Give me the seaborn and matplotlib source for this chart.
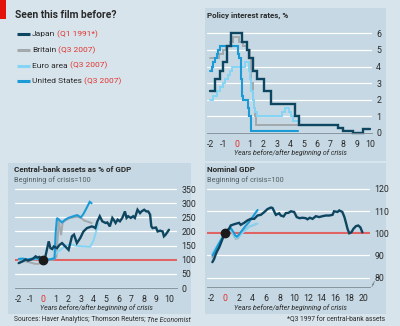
import matplotlib
matplotlib.use("Agg")
import matplotlib.pyplot as plt
import seaborn as sns
import pandas as pd
from matplotlib import font_manager
from matplotlib.patches import Rectangle
from matplotlib.lines import Line2D

# ---------------- data ----------------
countries = ["Britain", "Euro area", "United States", "Japan"]
legend_order = ["Japan", "Britain", "Euro area", "United States"]
crisis_dates = {"Japan": "(Q1 1991*)", "Britain": "(Q3 2007)",
                "Euro area": "(Q3 2007)", "United States": "(Q3 2007)"}

# Policy interest rates, % (step change points; years before/after crisis)
rate_japan_x = [-2, -1.6, -1.25, -1.0, -0.75, -0.4, 0.4, 0.8, 0.95, 1.2, 1.5, 2.05, 2.6, 4.35, 4.7, 7.6, 8.0, 8.75, 9.5, 10.0]
rate_japan_y = [2.5, 3.25, 3.75, 4.25, 5.25, 6.0, 5.5, 5.0, 4.5, 3.75, 3.25, 2.5, 1.75, 1.0, 0.5, 0.3, 0.15, 0.0, 0.25, 0.25]
rate_britain_x = [-2, -1.35, -1.05, -0.8, -0.5, -0.3, 0.2, 0.45, 0.75, 1.0, 1.1, 1.2, 1.3, 1.38, 1.45, 4.75]
rate_britain_y = [4.5, 4.75, 5.0, 5.25, 5.5, 5.75, 5.5, 5.25, 5.0, 4.5, 3.0, 2.0, 1.5, 1.0, 0.5, 0.5]
rate_euro_x = [-2, -1.75, -1.5, -1.25, -1.05, -0.85, -0.65, -0.5, -0.35, 0.65, 0.9, 1.0, 1.1, 1.2, 1.3, 1.4, 1.5, 3.4, 3.6, 3.95, 4.05, 4.2, 4.75]
rate_euro_y = [2.0, 2.25, 2.5, 2.75, 3.0, 3.25, 3.5, 3.75, 4.0, 4.25, 3.75, 3.25, 2.5, 2.0, 1.5, 1.25, 1.0, 1.25, 1.5, 1.25, 1.0, 0.75, 0.75]
rate_us_x = [-2, -1.875, -1.75, -1.625, -1.5, -1.375, -1.25, 0.12, 0.2, 0.3, 0.38, 0.45, 0.88, 0.95, 1.1, 4.6]
rate_us_y = [3.75, 4.0, 4.25, 4.5, 4.75, 5.0, 5.25, 4.75, 4.5, 3.25, 2.25, 2.0, 1.5, 1.0, 0.125, 0.125]

# Central-bank assets as % of GDP (beginning of crisis = 100)
cb_japan_x = [-1.95, -1.6, -1.4, -1.2, -1.0, -0.8, -0.6, -0.45, -0.3, -0.15, 0.0, 0.18, 0.44, 0.58, 0.72, 0.84, 1.1, 1.31, 1.5, 1.76, 2.02, 2.29, 2.45, 2.68, 2.95, 3.2, 3.48, 3.87, 4.05, 4.15, 4.3, 4.5, 4.7, 4.97, 5.1, 5.3, 5.5, 5.6, 5.76, 5.92, 6.1, 6.29, 6.5, 6.63, 6.76, 6.97, 7.15, 7.29, 7.5, 7.7, 7.82, 8.03, 8.2, 8.35, 8.5, 8.6, 8.7, 8.97, 9.1, 9.3, 9.5, 9.6, 9.74, 10.0]
cb_japan_y = [88, 95, 101, 97, 100, 104, 112, 108, 110, 105, 100, 112, 165, 141, 138, 147, 141, 153, 159, 147, 135, 183, 189, 159, 177, 200, 212, 218, 215, 212, 235, 254, 236, 230, 232, 218, 248, 242, 230, 242, 236, 248, 271, 248, 254, 248, 254, 248, 277, 265, 271, 277, 271, 271, 260, 218, 212, 214, 200, 203, 200, 183, 189, 206]
cb_britain_x = [-1.93, -1.6, -1.3, -1.0, -0.7, -0.4, -0.2, 0.0, 0.4, 0.8, 1.05, 1.25, 1.35, 1.42, 1.55, 1.8, 2.1, 2.4, 2.7, 3.0, 3.3, 3.6, 3.85]
cb_britain_y = [98, 96, 93, 90, 86, 85, 90, 97, 100, 100, 110, 242, 205, 187, 232, 240, 247, 250, 252, 248, 238, 234, 230]
cb_euro_x = [-1.93, -1.5, -1.0, -0.5, 0.0, 0.4, 0.8, 1.05, 1.37, 1.76, 2.16, 2.55, 2.95, 3.35, 3.74, 4.0, 4.21, 4.4]
cb_euro_y = [100, 101, 100, 102, 100, 100, 106, 125, 135, 150, 155, 150, 148, 147, 146, 168, 200, 228]
cb_us_x = [-1.93, -1.6, -1.3, -1.0, -0.6, -0.3, 0.0, 0.3, 0.6, 0.9, 1.0, 1.1, 1.3, 1.5, 1.75, 2.0, 2.4, 2.7, 3.0, 3.2, 3.45, 3.7, 3.85]
cb_us_y = [103, 104, 101, 103, 105, 103, 100, 100, 102, 105, 200, 248, 240, 232, 242, 248, 254, 258, 250, 262, 283, 305, 300]

# Nominal GDP (beginning of crisis = 100)
gdp_japan_x = [-1.8, -1.55, -1.3, -1.1, -0.82, -0.34, 0.0, 0.3, 0.6, 0.85, 1.1, 1.59, 2.07, 2.3, 2.8, 3.28, 3.76, 4.25, 4.73, 5.2, 5.69, 6.17, 6.66, 6.9, 7.38, 7.86, 8.1, 8.5, 8.83, 9.2, 9.55, 10.03, 10.4, 10.8, 11.24, 11.7, 11.96, 12.3, 12.69, 13.17, 13.65, 14.13, 14.6, 15.1, 15.58, 15.8, 16.3, 16.55, 17.0, 17.3, 17.5, 17.75, 18.0, 18.3, 18.6, 18.96, 19.3, 19.6, 19.9]
gdp_japan_y = [87, 88.4, 90.6, 92, 93.6, 97.4, 100, 101.3, 102, 103.5, 103.8, 104.3, 104.7, 103.8, 104.7, 105.8, 106.5, 106.5, 108, 108.3, 109.5, 110.9, 111.6, 111.4, 108.3, 109, 108, 107.6, 109.1, 109.2, 109.9, 109.6, 107.3, 106.8, 107, 106.8, 106.3, 107, 106.5, 107.7, 107.3, 107.7, 108, 108, 108.3, 109.9, 109.6, 110.3, 109.6, 107.3, 105, 102, 100, 100.4, 102, 103.2, 103.5, 102.7, 100.4]
gdp_britain_x = [-1.8, -1.5, -1.0, -0.5, 0.0, 0.5, 0.8, 1.2, 1.6, 1.9, 2.4, 3.0, 3.5, 4.0, 4.6]
gdp_britain_y = [89, 91, 94, 97, 100, 101.5, 101.8, 99.5, 97.5, 97.8, 100, 101.8, 103, 103.5, 104.3]
gdp_euro_x = [-1.8, -1.0, 0.0, 0.6, 0.9, 1.3, 1.7, 2.0, 2.5, 3.0, 3.5, 4.0, 4.5, 4.75]
gdp_euro_y = [91, 95, 100, 102, 101.5, 99, 97.8, 98.5, 100, 101.5, 102.8, 103.6, 104.2, 104.3]
gdp_us_x = [-1.8, -1.5, -1.0, -0.5, 0.0, 0.5, 0.9, 1.25, 1.5, 1.75, 2.0, 2.5, 3.0, 3.5, 4.0, 4.5, 4.75]
gdp_us_y = [90, 91.5, 94.5, 97.3, 100, 101.5, 102.2, 100.5, 99, 98.5, 99.2, 101.3, 103.3, 105, 107.2, 109.5, 110.5]

rate_ticks = [0, 1, 2, 3, 4, 5, 6]
cb_ticks = [0, 50, 100, 150, 200, 250, 300, 350]
gdp_ticks = [80, 90, 100, 110, 120]
years_short = [-2, -1, 0, 1, 2, 3, 4, 5, 6, 7, 8, 9, 10]
years_long = [-2, 0, 2, 4, 6, 8, 10, 12, 14, 16, 18, 20]

# ---------------- style ----------------
FIG_BG = "#d7e4ec"
PANEL_BG = "#c5d8e3"
TXT = "#2a2a2a"
SUB = "#555e63"
RED = "#e3342f"
REF_RED = "#e06464"
TICK = "#7d8a92"
colors = {"Japan": "#0e4560", "Britain": "#a3a9ac",
          "Euro area": "#84d4f4", "United States": "#1b9ad6"}
widths = {"Japan": 1.7, "Britain": 1.4, "Euro area": 1.4, "United States": 1.5}

sns.set_style("white")
avail = {f.name for f in font_manager.fontManager.ttflist}
base = next((f for f in ["Liberation Sans Narrow", "Roboto", "Lato"] if f in avail), "DejaVu Sans")
plt.rcParams["font.family"] = [base, "DejaVu Sans"]
plt.rcParams["axes.unicode_minus"] = False

W, H = 400, 326
fig = plt.figure(figsize=(4.0, 3.26), dpi=100, facecolor=FIG_BG)


def fx(x):
    return x / W


def fy(y):
    return 1 - y / H


def panel(x0, y0, x1, y1):
    fig.add_artist(Rectangle((fx(x0), fy(y1)), fx(x1) - fx(x0), fy(y0) - fy(y1),
                             transform=fig.transFigure, facecolor=PANEL_BG,
                             edgecolor="none", zorder=-1))


def make_axes(x0, y0, x1, y1):
    return fig.add_axes([fx(x0), fy(y1), fx(x1) - fx(x0), fy(y0) - fy(y1)])


def style(ax, xlim, ylim, yticks, xticks, minor=None):
    ax.set_facecolor("none")
    ax.set_xlim(xlim)
    ax.set_ylim(ylim)
    ax.set_yticks(yticks)
    ax.set_yticklabels([str(v) for v in yticks])
    ax.yaxis.tick_right()
    ax.tick_params(axis="y", length=0, pad=3, labelsize=6.3, labelcolor=TXT)
    ax.set_xticks(xticks)
    ax.set_xticklabels([str(v) for v in xticks])
    if minor is not None:
        ax.set_xticks(minor, minor=True)
        ax.tick_params(axis="x", which="minor", length=2, width=0.6, color=TICK)
    ax.tick_params(axis="x", which="major", length=2.5, width=0.6, color=TICK,
                   pad=2.5, labelsize=6.3, labelcolor=TXT)
    for s in ["top", "right", "left"]:
        ax.spines[s].set_visible(False)
    ax.spines["bottom"].set_color(TICK)
    ax.spines["bottom"].set_linewidth(0.6)
    ax.grid(axis="y", color="white", lw=0.9)
    ax.grid(axis="x", visible=False)
    ax.set_axisbelow(True)
    ax.set_xlabel("")
    ax.set_ylabel("")
    idx = list(xticks).index(0)
    ax.get_xticklabels()[idx].set_color(RED)
    ax.xaxis.get_major_ticks()[idx].tick1line.set_color(RED)


def draw(ax, series, step=False):
    for c in countries:
        xs, ys = series[c]
        df = pd.DataFrame({"year": xs, "value": ys})
        kw = dict(drawstyle="steps-post") if step else {}
        sns.lineplot(data=df, x="year", y="value", ax=ax, color=colors[c],
                     lw=widths[c], estimator=None, sort=False, legend=False,
                     solid_joinstyle="miter", clip_on=False, **kw)


# overlay axes for figure-level annotations
ov = fig.add_axes([0, 0, 1, 1])
ov.axis("off")
ov.set_xlim(0, 1)
ov.set_ylim(0, 1)
ov.set_zorder(5)

# ---------------- legend block (top left) ----------------
fig.add_artist(Rectangle((0, fy(19)), fx(5.5), fy(0) - fy(19), transform=fig.transFigure,
                         facecolor="#e3120b", edgecolor="none"))
fig.text(fx(15), fy(15), "Seen this film before?", fontsize=7.4, fontweight="bold",
         color=TXT, va="center", ha="left")
for i, c in enumerate(legend_order):
    yy = 34 + i * 15.8
    fig.add_artist(Line2D([fx(17), fx(30)], [fy(yy), fy(yy)], transform=fig.transFigure,
                          color=colors[c], lw=2.2, solid_capstyle="butt"))
    t = ov.text(fx(32), fy(yy), c, fontsize=6.0, color=TXT, va="center", ha="left")
    ov.annotate(" " + crisis_dates[c], xy=(1, 0.5), xycoords=t, fontsize=6.0, color=RED,
                va="center", ha="left", annotation_clip=False)

# ---------------- policy rates (top right) ----------------
panel(205, 8, 386, 161)
ax1 = make_axes(206.7, 22, 372, 133)
draw(ax1, {"Japan": (rate_japan_x, rate_japan_y), "Britain": (rate_britain_x, rate_britain_y),
           "Euro area": (rate_euro_x, rate_euro_y), "United States": (rate_us_x, rate_us_y)},
     step=True)
style(ax1, (-2.25, 10.15), (0, 6.68), rate_ticks, years_short)
fig.text(fx(207), fy(15), "Policy interest rates, %", fontsize=5.8, fontweight="bold",
         color=TXT, va="center", ha="left")
fig.text(fx(290), fy(153), "Years before/after beginning of crisis", fontsize=5.0,
         style="italic", color=TXT, va="center", ha="center")

# ---------------- central-bank assets (bottom left) ----------------
panel(8, 163, 191, 314)
ax2 = make_axes(15, 186, 177, 288)
ax2.axhline(100, color=REF_RED, lw=1.5, zorder=1.5)
draw(ax2, {"Japan": (cb_japan_x, cb_japan_y), "Britain": (cb_britain_x, cb_britain_y),
           "Euro area": (cb_euro_x, cb_euro_y), "United States": (cb_us_x, cb_us_y)})
ax2.plot([0], [100], "o", color="#1a1a1a", ms=6, zorder=5, clip_on=False)
style(ax2, (-2.24, 10.64), (0, 361), cb_ticks, years_short)
fig.text(fx(14), fy(170), "Central-bank assets as % of GDP", fontsize=5.8, fontweight="bold",
         color=TXT, va="center", ha="left")
fig.text(fx(14), fy(180), "Beginning of crisis=100", fontsize=5.3, color=SUB,
         va="center", ha="left")
fig.text(fx(96), fy(308), "Years before/after beginning of crisis", fontsize=5.0,
         style="italic", color=TXT, va="center", ha="center")

# ---------------- nominal GDP (bottom right) ----------------
panel(205, 163, 386, 314)
ax3 = make_axes(206.7, 186, 370, 287)
ax3.axhline(100, color=REF_RED, lw=1.5, zorder=1.5)
draw(ax3, {"Japan": (gdp_japan_x, gdp_japan_y), "Britain": (gdp_britain_x, gdp_britain_y),
           "Euro area": (gdp_euro_x, gdp_euro_y), "United States": (gdp_us_x, gdp_us_y)})
ax3.plot([0], [100], "o", color="#1a1a1a", ms=6, zorder=5, clip_on=False)
style(ax3, (-2.62, 21.0), (75.8, 121.3), gdp_ticks, years_long,
      minor=list(range(-2, 21)))
# broken-axis mark
ax3.plot([1.012, 1.022, 1.017, 1.027], [0.005, 0.035, 0.025, 0.055], transform=ax3.transAxes,
         color=TICK, lw=0.6, clip_on=False)
fig.text(fx(207), fy(170), "Nominal GDP", fontsize=5.8, fontweight="bold",
         color=TXT, va="center", ha="left")
fig.text(fx(207), fy(180), "Beginning of crisis=100", fontsize=5.3, color=SUB,
         va="center", ha="left")
fig.text(fx(290), fy(308), "Years before/after beginning of crisis", fontsize=5.0,
         style="italic", color=TXT, va="center", ha="center")

# ---------------- footer ----------------
src = ov.text(fx(14), fy(319.5), "Sources: Haver Analytics; Thomson Reuters; ", fontsize=4.9,
              color=TXT, va="center", ha="left")
ov.annotate("The Economist", xy=(1, 0.5), xycoords=src, fontsize=4.9, color=TXT,
            style="italic", va="center", ha="left", annotation_clip=False)
fig.text(fx(385), fy(319.5), "*Q3 1997 for central-bank assets", fontsize=4.9, color=TXT,
         va="center", ha="right")

fig.savefig("out.png", dpi=100, facecolor=FIG_BG)
